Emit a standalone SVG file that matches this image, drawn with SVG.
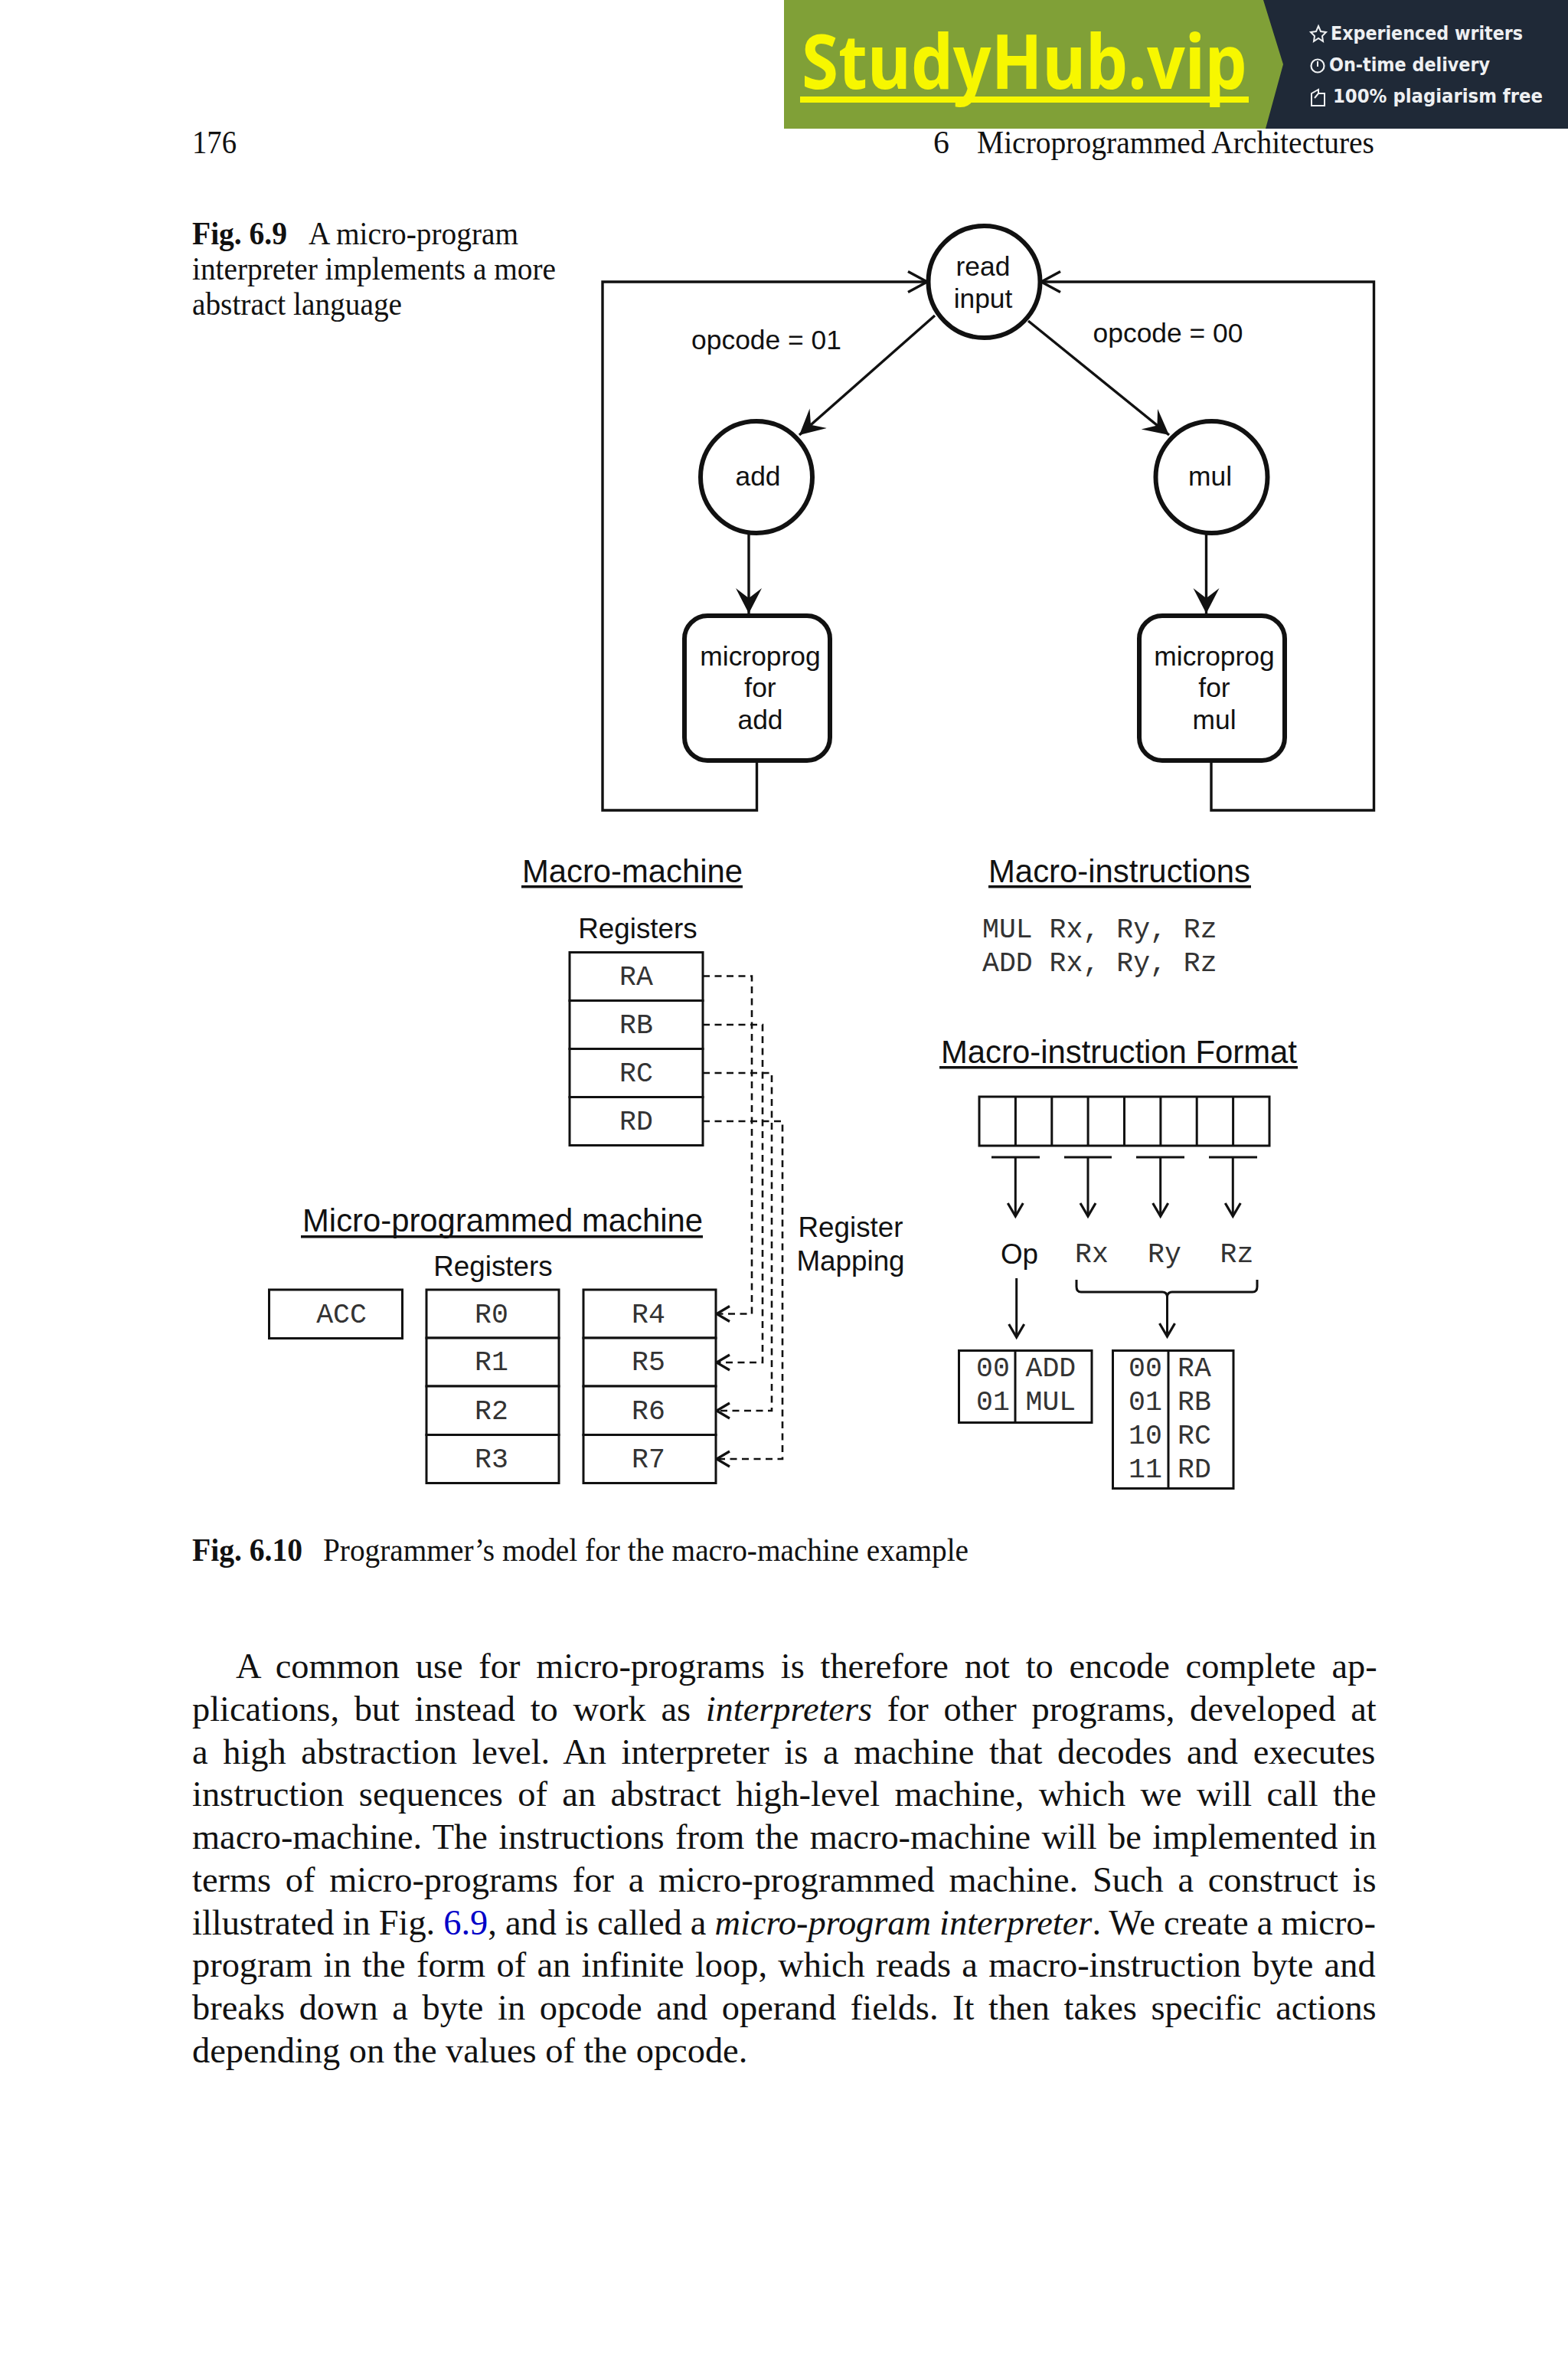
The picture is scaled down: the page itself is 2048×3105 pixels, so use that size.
<svg xmlns="http://www.w3.org/2000/svg" width="2048" height="3105" viewBox="0 0 2048 3105">
<style>
.h{font-family:"Liberation Sans",Arial,sans-serif;fill:#111}
.n{font-size:35.4px;text-anchor:middle}
.r{font-size:36.8px;text-anchor:middle}
.t{font-size:41.9px}
.m{font-family:"Liberation Mono","Courier New",monospace;font-size:36.5px;fill:#333}
.c{text-anchor:middle}
.s{font-family:"Liberation Serif","Times New Roman",serif;fill:#111}
.b{font-size:46.4px}
.cap{font-size:41.8px}
.l{fill:none;stroke:#111;stroke-width:3}
.a{fill:none;stroke:#111;stroke-width:3.4}
.k{fill:#fff;stroke:#111;stroke-width:3}
.o{fill:#fff;stroke:#111;stroke-width:6}
.d{fill:none;stroke:#111;stroke-width:2.6;stroke-dasharray:9 6.5}
.w{font-family:"DejaVu Sans",sans-serif;font-weight:bold;font-size:24px;fill:#eef0f2}
.i{font-style:italic}
</style>
<defs>
<marker id="open" markerUnits="userSpaceOnUse" markerWidth="30" markerHeight="30" refX="20" refY="12" orient="auto"><path d="M3 2L20 12L3 22" fill="none" stroke="#111" stroke-width="3.2"/></marker>
<marker id="openL" markerUnits="userSpaceOnUse" markerWidth="36" markerHeight="36" refX="28" refY="16" orient="auto"><path d="M3 2.5L28 16L3 29.5" fill="none" stroke="#111" stroke-width="3.4"/></marker>
<marker id="solid" markerUnits="userSpaceOnUse" markerWidth="44" markerHeight="44" refX="33" refY="17" orient="auto"><path d="M0 0L33 17L0 34L13 17Z" fill="#111"/></marker>
</defs>
<rect width="2048" height="3105" fill="#fff"/>
<g id="banner">
<rect x="1024" y="0" width="1024" height="168" fill="#80a037"/>
<path d="M1650 0H2048V168H1653L1676 84Z" fill="#1f2937"/>
<text x="1047" y="116" font-family="Noto Sans,sans-serif" font-weight="bold" font-size="98" fill="#f7f700" textLength="582" lengthAdjust="spacingAndGlyphs">StudyHub.vip</text>
<rect x="1045" y="126" width="586" height="8" fill="#f7f700"/>
<path d="M1722 34l3 7 7 1-5 5 1 7-6-4-6 4 1-7-5-5 7-1z" fill="none" stroke="#eef0f2" stroke-width="2"/>
<circle cx="1721" cy="86" r="8.5" fill="none" stroke="#eef0f2" stroke-width="2.2"/><path d="M1721 80v7" stroke="#eef0f2" stroke-width="2"/>
<path d="M1713 122l9-5v5h8v16h-17zM1722 122l-5 6" fill="none" stroke="#eef0f2" stroke-width="2"/>
<text class="w" x="1738" y="52" textLength="251" lengthAdjust="spacingAndGlyphs">Experienced writers</text>
<text class="w" x="1736" y="93" textLength="210" lengthAdjust="spacingAndGlyphs">On-time delivery</text>
<text class="w" x="1741" y="134" textLength="274" lengthAdjust="spacingAndGlyphs">100% plagiarism free</text>
</g>
<g id="page-header">
<text class="s cap" x="251" y="200" textLength="58" lengthAdjust="spacingAndGlyphs">176</text>
<text class="s cap" x="1219" y="200">6</text>
<text class="s cap" x="1276" y="200" textLength="519" lengthAdjust="spacingAndGlyphs">Microprogrammed Architectures</text>
</g>
<g id="fig9-caption" class="s cap">
<text x="251" y="319" font-weight="bold" textLength="124" lengthAdjust="spacingAndGlyphs">Fig. 6.9</text>
<text x="403" y="319" textLength="274" lengthAdjust="spacingAndGlyphs">A micro-program</text>
<text x="251" y="365" textLength="475" lengthAdjust="spacingAndGlyphs">interpreter implements a more</text>
<text x="251" y="411" textLength="274" lengthAdjust="spacingAndGlyphs">abstract language</text>
</g>
<g id="fig9-connectors">
<path class="a" d="M988.5 994V1058H787V368H1211" marker-end="url(#openL)"/>
<path class="a" d="M1582 994V1058H1794.5V368H1360" marker-end="url(#openL)"/>
<path class="a" d="M1221 412L1044 568" marker-end="url(#solid)"/>
<path class="a" d="M1343 419L1527 568" marker-end="url(#solid)"/>
<path class="a" d="M978 698V801" marker-end="url(#solid)"/>
<path class="a" d="M1575.5 698V801" marker-end="url(#solid)"/>
</g>
<g id="node-read"><circle class="o" cx="1285.5" cy="368" r="73"/><text class="h n" x="1284" y="360">read</text><text class="h n" x="1284" y="402">input</text></g>
<g id="node-add"><circle class="o" cx="988" cy="623" r="73"/><text class="h n" x="990" y="634">add</text></g>
<g id="node-mul"><circle class="o" cx="1582.5" cy="623" r="73"/><text class="h n" x="1580.5" y="634">mul</text></g>
<g id="node-prog-add"><rect class="o" x="894" y="804" width="190" height="189" rx="30"/><text class="h n" x="993" y="869">microprog</text><text class="h n" x="993" y="910">for</text><text class="h n" x="993" y="952">add</text></g>
<g id="node-prog-mul"><rect class="o" x="1488" y="804" width="190" height="189" rx="30"/><text class="h n" x="1586" y="869">microprog</text><text class="h n" x="1586" y="910">for</text><text class="h n" x="1586" y="952">mul</text></g>
<text class="h n" x="1001" y="456">opcode = 01</text>
<text class="h n" x="1525.5" y="447">opcode = 00</text>
<g id="titles" class="h t">
<text x="682" y="1152" textLength="288" lengthAdjust="spacingAndGlyphs">Macro-machine</text><rect x="681" y="1156" width="289" height="3.5"/>
<text x="1291" y="1152" textLength="342" lengthAdjust="spacingAndGlyphs">Macro-instructions</text><rect x="1291" y="1156" width="343" height="3.5"/>
<text x="1229" y="1388" textLength="465" lengthAdjust="spacingAndGlyphs">Macro-instruction Format</text><rect x="1227" y="1392" width="468" height="3.5"/>
<text x="395" y="1608" textLength="523" lengthAdjust="spacingAndGlyphs">Micro-programmed machine</text><rect x="393" y="1613" width="525" height="3.5"/>
</g>
<g id="macro-registers">
<text class="h r" x="833" y="1225">Registers</text>
<rect class="k" x="744" y="1243.5" width="174" height="63"/><rect class="k" x="744" y="1306.5" width="174" height="63"/><rect class="k" x="744" y="1369.5" width="174" height="63"/><rect class="k" x="744" y="1432.5" width="174" height="63"/>
<text class="m c" x="831" y="1286">RA</text><text class="m c" x="831" y="1349">RB</text><text class="m c" x="831" y="1412">RC</text><text class="m c" x="831" y="1475">RD</text>
</g>
<g id="macro-code" class="m">
<text x="1283" y="1223.5" xml:space="preserve">MUL Rx, Ry, Rz</text>
<text x="1283" y="1267.5" xml:space="preserve">ADD Rx, Ry, Rz</text>
</g>
<g id="mapping-connectors">
<path class="d" d="M918 1274.5H982V1715.5H936" marker-end="url(#open)"/>
<path class="d" d="M918 1338H996V1779H936" marker-end="url(#open)"/>
<path class="d" d="M918 1401H1008V1842H936" marker-end="url(#open)"/>
<path class="d" d="M918 1464H1022V1905H936" marker-end="url(#open)"/>
</g>
<g id="mapping-label"><text class="h r" x="1111" y="1615">Register</text><text class="h r" x="1111" y="1659">Mapping</text></g>
<g id="micro-registers">
<text class="h r" x="644" y="1666">Registers</text>
<rect class="k" x="351.5" y="1684" width="174" height="63.5"/>
<text class="m c" x="446" y="1727">ACC</text>
<rect class="k" x="557" y="1684" width="173" height="63"/><rect class="k" x="557" y="1747" width="173" height="63"/><rect class="k" x="557" y="1810" width="173" height="63.5"/><rect class="k" x="557" y="1873.5" width="173" height="63"/>
<rect class="k" x="762" y="1684" width="173" height="63"/><rect class="k" x="762" y="1747" width="173" height="63"/><rect class="k" x="762" y="1810" width="173" height="63.5"/><rect class="k" x="762" y="1873.5" width="173" height="63"/>
<text class="m c" x="642" y="1727">R0</text><text class="m c" x="642" y="1789">R1</text><text class="m c" x="642" y="1853">R2</text><text class="m c" x="642" y="1915.5">R3</text>
<text class="m c" x="847" y="1727">R4</text><text class="m c" x="847" y="1789">R5</text><text class="m c" x="847" y="1853">R6</text><text class="m c" x="847" y="1915.5">R7</text>
</g>
<g id="byte-format">
<rect class="k" x="1279" y="1432" width="379" height="64"/>
<path class="l" d="M1326.4 1432v64M1373.8 1432v64M1421.1 1432v64M1468.5 1432v64M1515.9 1432v64M1563.2 1432v64M1610.6 1432v64"/>
</g>
<g id="format-connectors">
<path class="l" d="M1295 1511H1358M1390 1511H1452M1484 1511H1547M1579 1511H1642"/>
<path class="l" d="M1326.3 1511V1588" marker-end="url(#open)"/>
<path class="l" d="M1421 1511V1588" marker-end="url(#open)"/>
<path class="l" d="M1515.7 1511V1588" marker-end="url(#open)"/>
<path class="l" d="M1610.3 1511V1588" marker-end="url(#open)"/>
<path class="l" d="M1327.7 1669V1746" marker-end="url(#open)"/>
<path class="l" d="M1406 1671V1680Q1406 1687 1412 1687H1518Q1524 1687 1524.5 1693Q1525 1687 1531 1687H1636Q1642 1687 1642 1680V1671"/>
<path class="l" d="M1524.5 1690V1745" marker-end="url(#open)"/>
</g>
<g id="format-labels">
<text class="h r" x="1331.5" y="1650">Op</text>
<text class="m" x="1404" y="1648">Rx</text><text class="m" x="1499" y="1648">Ry</text><text class="m" x="1593.5" y="1648">Rz</text>
</g>
<g id="op-table">
<rect class="k" x="1252.5" y="1763.5" width="173.5" height="94"/><path class="l" d="M1326 1763.5v94"/>
<g class="m"><text x="1275" y="1797">00</text><text x="1275" y="1841">01</text><text x="1339.5" y="1797">ADD</text><text x="1339.5" y="1841">MUL</text></g>
</g>
<g id="reg-table">
<rect class="k" x="1453.5" y="1763.5" width="157.5" height="180"/><path class="l" d="M1526 1763.5v180"/>
<g class="m"><text x="1474" y="1797">00</text><text x="1474" y="1841">01</text><text x="1474" y="1885">10</text><text x="1474" y="1929">11</text>
<text x="1538" y="1797">RA</text><text x="1538" y="1841">RB</text><text x="1538" y="1885">RC</text><text x="1538" y="1929">RD</text></g>
</g>
<g id="fig10-caption" class="s cap">
<text x="251" y="2038" font-weight="bold" textLength="144" lengthAdjust="spacingAndGlyphs">Fig. 6.10</text>
<text x="422" y="2038" textLength="843" lengthAdjust="spacingAndGlyphs">Programmer’s model for the macro-machine example</text>
</g>
<g id="body" class="s b">
<text x="308" y="2191" word-spacing="9.15">A common use for micro-programs is therefore not to encode complete ap-</text>
<text x="251" y="2247" word-spacing="8.07">plications, but instead to work as <tspan class="i">interpreters</tspan> for other programs, developed at</text>
<text x="251" y="2303" word-spacing="8.02">a high abstraction level. An interpreter is a machine that decodes and executes</text>
<text x="251" y="2358" word-spacing="7.8">instruction sequences of an abstract high-level machine, which we will call the</text>
<text x="251" y="2414" word-spacing="2.8">macro-machine. The instructions from the macro-machine will be implemented in</text>
<text x="251" y="2470" word-spacing="7.15">terms of micro-programs for a micro-programmed machine. Such a construct is</text>
<text x="251" y="2526" word-spacing="-0.54">illustrated in Fig. <tspan fill="#0000c8">6.9</tspan>, and is called a <tspan class="i">micro-program interpreter</tspan>. We create a micro-</text>
<text x="251" y="2581" word-spacing="2.75">program in the form of an infinite loop, which reads a macro-instruction byte and</text>
<text x="251" y="2637" word-spacing="7">breaks down a byte in opcode and operand fields. It then takes specific actions</text>
<text x="251" y="2693">depending on the values of the opcode.</text>
</g>
</svg>
